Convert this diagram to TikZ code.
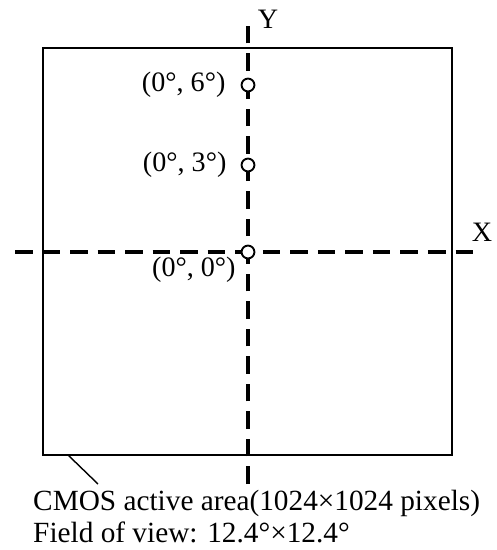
\documentclass[tikz,border=0pt]{standalone}
\usepackage{fontspec}
\setmainfont{Liberation Serif}
\usetikzlibrary{positioning}

\begin{document}
\begin{tikzpicture}[
    x=0.03cm, y=-0.03cm,
    axis/.style={line width=4.2pt, dash pattern=on 15pt off 8.5pt}, % Dashed axes
    frame/.style={line width=1.6pt}, % Sensor outline
    spot/.style={circle, draw, fill=white, line width=1.6pt, minimum size=11pt, inner sep=0pt},
    textnode/.style={inner sep=0pt, font=\fontsize{24}{28}\selectfont}
]
    \useasboundingbox (0,0) rectangle (497,550);

    % Sensor area
    \coordinate (tl) at (43,48);
    \coordinate (br) at (452,455);
    \draw[frame] (tl) rectangle (br);

    % Axes
    \coordinate (ytop) at (248,20);
    \coordinate (ybot) at (248,484);
    \coordinate (xleft) at (15,252);
    \coordinate (xright) at (478,252);
    \draw[axis] (xleft) -- (xright);
    \draw[axis] (ybot) -- (ytop);
    \node (ylab) [textnode] at (268,19) {Y};
    \node (xlab) [textnode] at (482,232) {X};

    % Field points
    \node (c6) [spot] at (248,85) {};
    \node (c3) [spot] at (248,165) {};
    \node (c0) [spot] at (248,252) {};

    % Labels for points
    \node (l6) [textnode, left=0.45cm of c6] {(0°, 6°)};
    \node (l3) [textnode, left=0.42cm of c3] {(0°, 3°)};
    \node (l0) [textnode, below left=0cm and 0.21cm of c0] {(0°, 0°)};

    % Caption
    \node (cap) [textnode, font=\fontsize{25}{27}\selectfont, anchor=base west, align=left] at (33,542)
        {CMOS active area(1024×1024 pixels)\\Field of view: 12.4°×12.4°};
    \coordinate (lead) at (68,455);
    \coordinate (leadend) at (98,484);
    \draw[line width=1.2pt] (lead) -- (leadend);

\end{tikzpicture}
\end{document}
